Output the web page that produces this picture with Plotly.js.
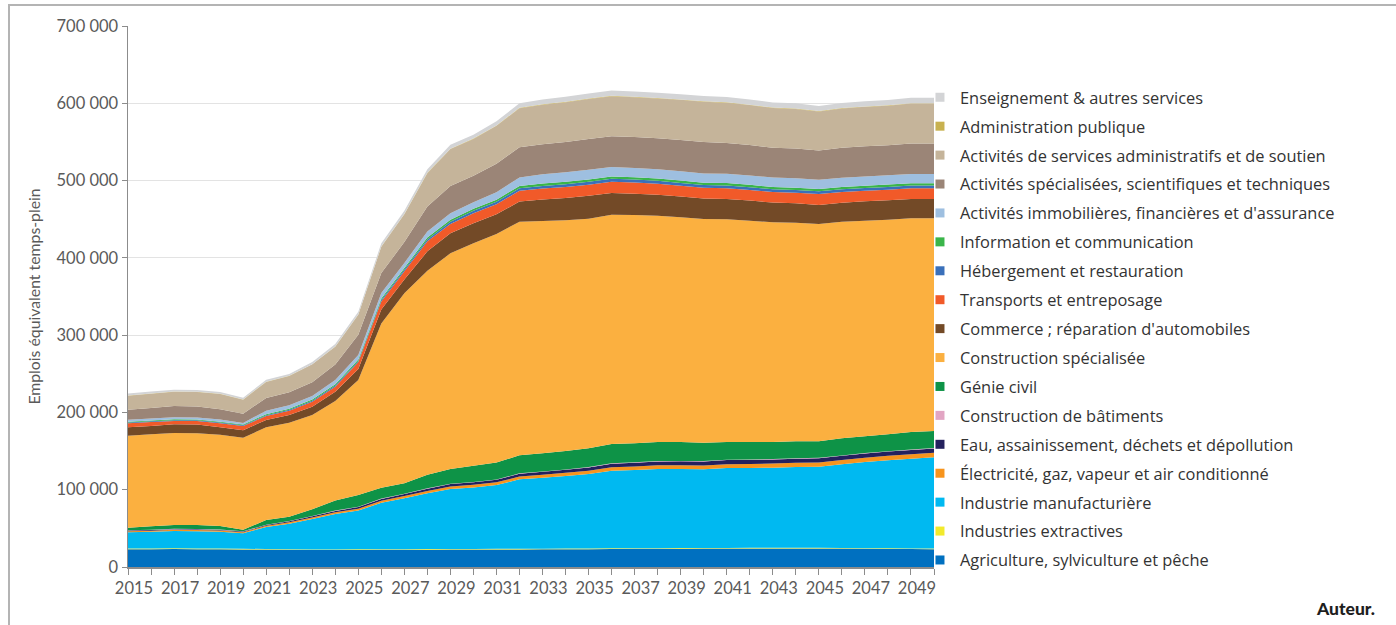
<!DOCTYPE html>
<html><head><meta charset="utf-8">
<script src="https://cdn.plot.ly/plotly-3.0.1.min.js"></script>
<style>
html,body{margin:0;padding:0;background:#fff;overflow:hidden;}
#chart{width:1396px;height:625px;}
#frame{position:absolute;left:8px;top:4px;width:1400px;height:640px;border:2px solid #b4b4b4;box-sizing:border-box;pointer-events:none;}
</style></head>
<body>
<div id="chart"></div>
<div id="frame"></div>
<script>
const years = [2015,2016,2017,2018,2019,2020,2021,2022,2023,2024,2025,2026,2027,2028,2029,2030,2031,2032,2033,2034,2035,2036,2037,2038,2039,2040,2041,2042,2043,2044,2045,2046,2047,2048,2049,2050];

const agriculture = [23000,23000,23200,23100,23000,22800,22500,22200,22000,22000,22100,22200,22300,22400,22500,22600,22700,22800,22900,23000,23100,23300,23500,23600,23700,23800,23900,24000,24000,24000,24000,23800,23600,23400,23200,23000];
const extractives = [900,900,900,900,900,800,800,800,800,800,800,800,800,800,800,800,800,800,800,800,800,800,800,800,800,800,800,800,800,800,800,800,800,800,800,800];
const manufacturiere = [21000,21600,22500,22300,21800,20000,28400,33000,39300,45800,50100,60000,65800,72100,77600,79600,82500,89800,91800,93900,96400,100500,101200,102400,102300,101800,103300,103200,103700,104600,105000,108300,111400,113800,116100,118100];
const electricite = [1500,1500,1500,1500,1500,1400,1700,1900,2100,2300,2500,2700,2900,3100,3300,3400,3500,3700,3900,4100,4300,4500,4600,4800,4900,5000,5100,5200,5300,5400,5500,5600,5700,5800,5900,6000];
const eau = [900,900,900,900,800,800,1000,1200,1400,1700,2000,2300,2600,2900,3100,3200,3300,3600,3800,4000,4300,4600,4800,4900,5000,5100,5200,5300,5300,5400,5400,5400,5500,5500,5500,5500];
const batiments = [400,400,400,400,400,300,400,400,400,500,500,500,500,500,500,500,500,500,500,500,500,500,500,500,500,500,500,500,500,500,500,500,500,500,500,500];
const genieCivil = [3200,4300,4900,5200,4600,2100,6000,5600,8600,12800,15200,14200,13500,17700,19100,21000,21800,23400,23400,23800,24200,24900,24700,24800,24600,23900,23000,22800,22200,22000,21500,22200,21600,22000,22700,22200];
const specialisee = [119000,119100,119100,118700,118200,119000,119900,121600,122000,128900,148900,212400,245700,263900,279000,287700,295800,302200,300500,298500,297100,296800,295400,292800,290700,289400,288100,286300,284200,282800,281100,280200,279000,277600,276500,275100];
const commerce = [10800,10800,11200,11300,9500,9900,9500,9900,10800,12100,14000,18000,18000,25000,26000,26000,25500,26000,28000,29000,29500,28000,27500,27000,26800,26500,26300,26000,25500,25000,24500,24500,25000,25000,25000,25000];
const transports = [5200,5000,4300,4500,5200,5200,5100,5600,6400,6400,9000,10500,10500,13000,12000,13000,13000,14000,14000,14200,14500,14700,14500,14300,14000,13800,13800,13700,13600,13800,14200,14000,13800,13800,13800,13800];
const hebergement = [1000,1000,1000,1000,1000,1000,1200,1200,1300,1400,1600,1900,2200,2500,2800,3000,3200,3400,3500,3600,3700,3800,3800,3800,3700,3700,3700,3700,3600,3600,3600,3600,3600,3600,3600,3600];
const information = [1200,1200,1200,1200,1200,1100,1300,1400,1500,1600,1700,1900,2100,2300,2500,2600,2700,2900,3000,3000,3000,3000,3000,3000,3000,3000,3000,3000,3000,2900,2900,2900,2900,3000,3000,3000];
const immobilieres = [2500,2500,2500,2500,2900,2000,4500,4400,4600,5700,6000,7000,6500,8000,8500,8500,9500,11000,12000,12500,12500,12000,12000,12000,12000,12000,12000,12000,12200,12200,12000,12000,12000,12000,12000,12000];
const scientifiques = [12800,13500,14700,14300,13000,12000,16500,16800,18000,20000,26000,26000,27000,32300,35300,34500,37000,39000,39000,39000,40000,40000,40000,40000,40500,40500,40000,39500,38500,38500,38000,38700,39000,39000,39500,39500];
const servicesAdmin = [18200,18500,18500,18500,19800,18100,20700,21000,23000,23000,26000,34000,36000,43000,47800,47400,49000,50500,51000,51500,51700,51700,51500,51500,52000,52200,52000,51700,51500,51200,50400,50800,51000,51000,51500,51500];
const adminPublique = [300,300,300,300,300,300,300,300,300,300,400,400,400,500,500,500,500,500,500,500,500,500,500,500,500,500,500,500,500,500,500,500,500,500,500,500];
const enseignement = [2500,2500,2400,2400,2400,2300,2400,2500,2600,3200,3600,4000,4300,4500,5000,5000,5500,6000,6300,6500,6700,6800,6800,6800,6800,6800,6800,6800,6700,6700,6700,6700,6800,6900,7000,7000];

const seriesNames = [
  "Agriculture, sylviculture et pêche",
  "Industries extractives",
  "Industrie manufacturière",
  "Électricité, gaz, vapeur et air conditionné",
  "Eau, assainissement, déchets et dépollution",
  "Construction de bâtiments",
  "Génie civil",
  "Construction spécialisée",
  "Commerce ; réparation d'automobiles",
  "Transports et entreposage",
  "Hébergement et restauration",
  "Information et communication",
  "Activités immobilières, financières et d'assurance",
  "Activités spécialisées, scientifiques et techniques",
  "Activités de services administratifs et de soutien",
  "Administration publique",
  "Enseignement & autres services"
];
const seriesValues = [agriculture, extractives, manufacturiere, electricite, eau, batiments, genieCivil, specialisee, commerce, transports, hebergement, information, immobilieres, scientifiques, servicesAdmin, adminPublique, enseignement];
const seriesColors = ["#0070C0","#F2EA2C","#00B9F1","#F7941D","#24215E","#E2A5C3","#0E9347","#FBB040","#734A27","#F15A29","#3A70BA","#3AB54A","#9EBFE0","#9B8577","#C5B49A","#C8B14F","#D3D4D6"];

const traces = [];
seriesNames.forEach((name, i) => {
  traces.push({
    type: "scatter", mode: "none", x: years, y: seriesValues[i],
    stackgroup: "one", fillcolor: seriesColors[i], name: name,
    showlegend: false, hoverinfo: "x+y+name"
  });
});
// legend entries (square keys), top to bottom
for (let i = seriesNames.length - 1; i >= 0; i--) {
  traces.push({
    type: "scatter", mode: "markers", x: [null], y: [null],
    name: seriesNames[i], legendgroup: "g" + i, showlegend: true,
    marker: {symbol: "square", size: 9, color: seriesColors[i]}
  });
}

const axisFont = {family: "Lato, 'Open Sans', sans-serif", size: 16.5, color: "#5a5a5a"};

const layout = {
  width: 1396, height: 625,
  margin: {l: 128, r: 462, t: 26, b: 58},
  paper_bgcolor: "#ffffff", plot_bgcolor: "#ffffff",
  separators: ", ",
  showlegend: true,
  font: {family: "Lato, 'Open Sans', sans-serif"},
  xaxis: {
    range: [2015, 2050], tick0: 2015, dtick: 2, tickmode: "linear",
    ticks: "outside", ticklen: 6, tickcolor: "#8c8c8c", tickwidth: 1,
    minor: {dtick: 1, tick0: 2015, ticks: "outside", ticklen: 6, tickcolor: "#8c8c8c", showgrid: false},
    showline: true, linecolor: "#8c8c8c", linewidth: 1.5,
    showgrid: false, zeroline: false, tickfont: axisFont,
    ticklabelshift: 6, fixedrange: true
  },
  yaxis: {
    range: [0, 700000], dtick: 100000, tick0: 0, tickformat: ",d",
    ticks: "outside", ticklen: 5, tickcolor: "#8c8c8c",
    showline: true, linecolor: "#8c8c8c", linewidth: 1.5,
    showgrid: true, gridcolor: "#e3e3e3", gridwidth: 1, zeroline: false,
    tickfont: axisFont,
    title: {text: "Emplois équivalent temps-plein", font: {family: "Lato, 'Open Sans', sans-serif", size: 15.8, color: "#5a5a5a"}, standoff: 12},
    fixedrange: true
  },
  legend: {
    x: 0.9826, xanchor: "left", y: 0.9, yanchor: "top",
    traceorder: "grouped", tracegroupgap: 4.6,
    font: {family: "'Open Sans', Lato, sans-serif", size: 16.4, color: "#333333"},
    bgcolor: "rgba(0,0,0,0)", itemclick: false, itemdoubleclick: false
  },
  annotations: [{
    text: "Auteur.", xref: "paper", yref: "paper",
    x: 1.5496, y: -0.076, xanchor: "right", yanchor: "middle",
    showarrow: false,
    font: {family: "Lato, sans-serif", size: 17.5, color: "#1e1e1e", weight: 900}
  }]
};

Plotly.newPlot("chart", traces, layout, {displayModeBar: false, staticPlot: true});
</script>
</body></html>
